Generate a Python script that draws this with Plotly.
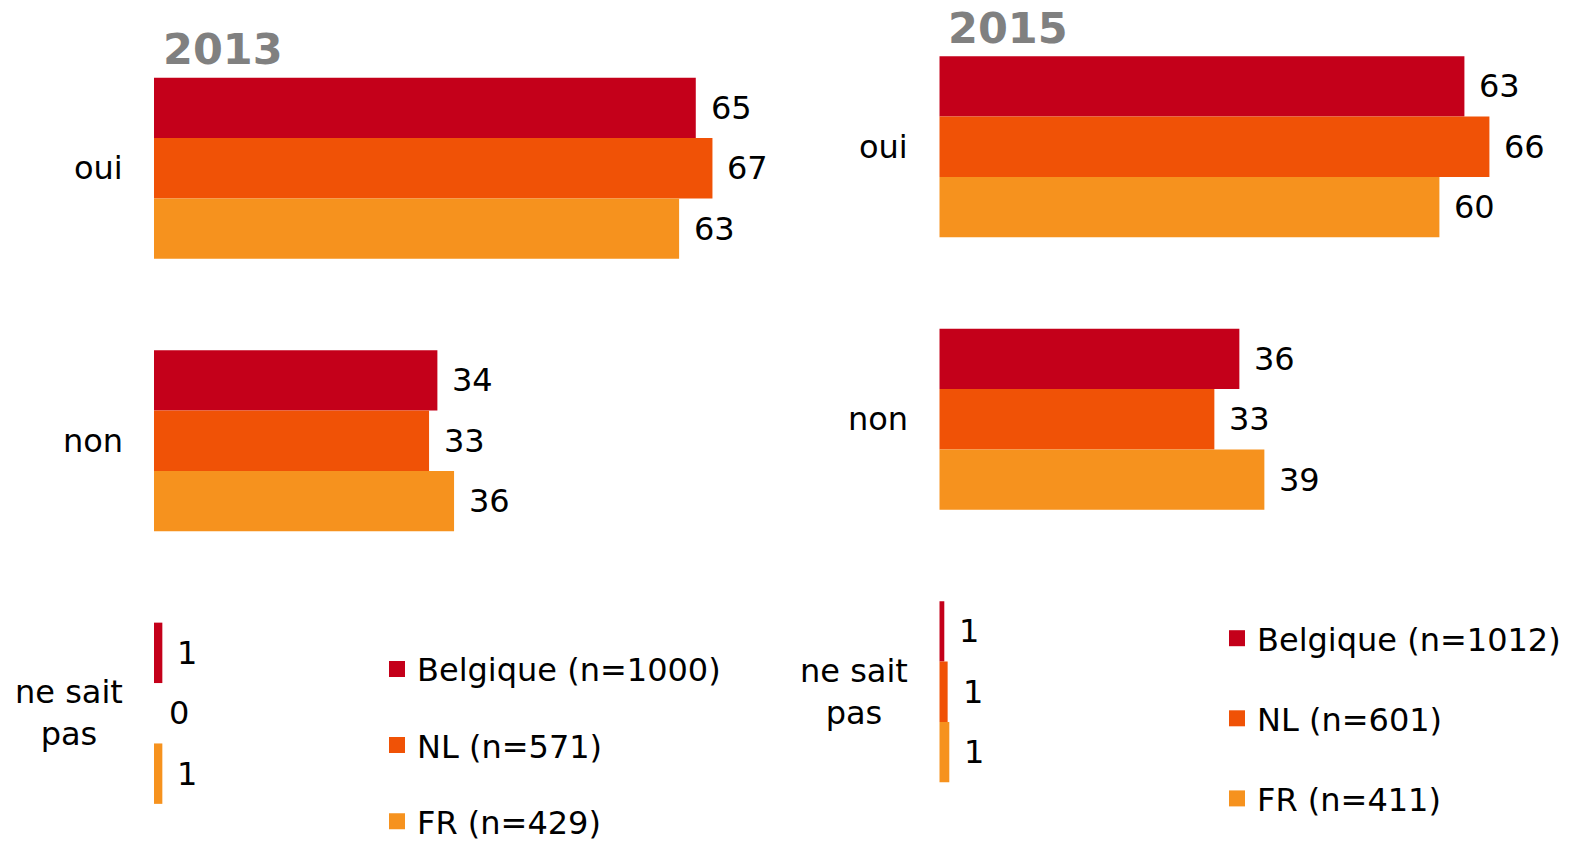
import plotly.graph_objects as go

# ---------------- data ----------------
categories = ["oui", "non", "ne sait pas"]
category_labels = ["oui", "non", "ne sait<br>pas"]
series = ["Belgique", "NL", "FR"]
colors = ["#C4001A", "#F05206", "#F6921E"]
years = ["2013", "2015"]

n_2013 = [1000, 571, 429]
n_2015 = [1012, 601, 411]

belgique_2013 = [65, 34, 1]
nl_2013 = [67, 33, 0]
fr_2013 = [63, 36, 1]

belgique_2015 = [63, 36, 0.6]
nl_2015 = [66, 33, 1.0]
fr_2015 = [60, 39, 1.2]

panels = [
    {"year": years[0], "values": [belgique_2013, nl_2013, fr_2013], "n": n_2013,
     "x": "x", "y": "y", "legend": "legend"},
    {"year": years[1], "values": [belgique_2015, nl_2015, fr_2015], "n": n_2015,
     "x": "x2", "y": "y2", "legend": "legend2"},
]

# ---------------- style ----------------
FONT = "DejaVu Sans, Verdana, sans-serif"
FS = 32
W, H = 1576, 843
OFF = 8  # page body margin


def px(xs):
    return (xs - OFF) / W


def py(ys):
    return 1 - (ys - OFF) / H


BARGAP = 0.335
STEP_PX = 272.5
BAR_PX = STEP_PX * (1 - BARGAP) / 3

fig = go.Figure()
annotations = []

for p in panels:
    for i, (s, vals, c) in enumerate(zip(series, p["values"], colors)):
        fig.add_trace(go.Bar(
            x=vals, y=categories, orientation="h", name=s,
            marker=dict(color=c, line=dict(width=0)),
            xaxis=p["x"], yaxis=p["y"], showlegend=False, hoverinfo="skip",
        ))
        # legend proxy
        fig.add_trace(go.Scatter(
            x=[None], y=[None], mode="markers",
            marker=dict(symbol="square", size=16, color=c),
            name=f"{s} (n={p['n'][i]})", legend=p["legend"],
            legendgroup=p["year"] + s,
            xaxis=p["x"], yaxis=p["y"], showlegend=True,
        ))
        for j, v in enumerate(vals):
            annotations.append(dict(
                x=v, y=categories[j], xref=p["x"], yref=p["y"],
                text=f"{round(v):d}", showarrow=False,
                xanchor="left", yanchor="middle",
                xshift=13, yshift=(1 - i) * BAR_PX,
                font=dict(family=FONT, size=FS, color="#000000"),
            ))

# category labels
cat_right = {"y": px(125), "y2": px(910)}
for p in panels:
    for cat, lab in zip(categories, category_labels):
        annotations.append(dict(
            x=cat_right[p["y"]], y=cat, xref="paper", yref=p["y"],
            text=lab, showarrow=False, xanchor="right", yanchor="middle",
            align="center", font=dict(family=FONT, size=FS, color="#000000"),
        ))

# year titles
title_pos = {"2013": (px(161), py(48.5)), "2015": (px(946), py(28))}
for yr, (tx, ty) in title_pos.items():
    annotations.append(dict(
        x=tx, y=ty, xref="paper", yref="paper", text=f"<b>{yr}</b>",
        showarrow=False, xanchor="left", yanchor="middle",
        font=dict(family=FONT, size=43, color="#808080"),
    ))

axis_common = dict(showgrid=False, zeroline=False, showline=False,
                   showticklabels=False, ticks="")
scale = 8.335
x0_left, x0_right = 154.0, 939.3
top_left, top_right = 32.0, 10.5
fig.update_layout(
    width=W, height=H,
    margin=dict(l=0, r=0, t=0, b=0, autoexpand=False),
    paper_bgcolor="white", plot_bgcolor="white",
    font=dict(family=FONT, size=FS, color="#000000"),
    barmode="group", bargap=BARGAP, bargroupgap=0,
    xaxis=dict(domain=[px(x0_left), px(x0_left + 75 * scale)], range=[0, 75],
               anchor="y", **axis_common),
    yaxis=dict(domain=[0, py(top_left)],
               range=[-0.5 + (H + OFF - top_left) / STEP_PX, -0.5],
               type="category", categoryorder="array", categoryarray=categories,
               anchor="x", **axis_common),
    xaxis2=dict(domain=[px(x0_right), px(x0_right + 75 * scale)], range=[0, 75],
                anchor="y2", **axis_common),
    yaxis2=dict(domain=[0, py(top_right)],
                range=[-0.5 + (H + OFF - top_right) / STEP_PX, -0.5],
                type="category", categoryorder="array", categoryarray=categories,
                anchor="x2", **axis_common),
    legend=dict(x=px(377), y=py(641.7), xanchor="left", yanchor="top",
                font=dict(family=FONT, size=FS, color="#000000"),
                tracegroupgap=31.5, bgcolor="rgba(0,0,0,0)", borderwidth=0),
    legend2=dict(x=px(1217), y=py(610.9), xanchor="left", yanchor="top",
                 font=dict(family=FONT, size=FS, color="#000000"),
                 tracegroupgap=35.5, bgcolor="rgba(0,0,0,0)", borderwidth=0),
    annotations=annotations,
    showlegend=True,
)

fig.write_html("out.html")
